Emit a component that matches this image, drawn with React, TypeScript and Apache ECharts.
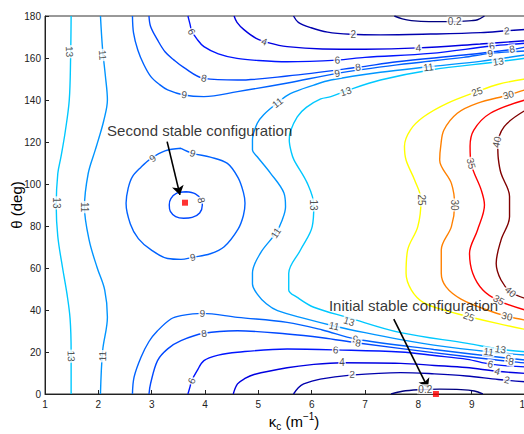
import React, { useEffect, useRef } from "react";
import * as echarts from "echarts";

const FONT = "'Liberation Sans', Arial, Helvetica, sans-serif";

// ---- contour lines: [kappa_c, theta] ----
const c02Top = [[7.55, 180], [7.7, 178.6], [7.87, 177.8], [8.2, 177.3], [8.68, 177.3], [9.0, 177.8], [9.11, 178.2], [9.24, 180]];
const c02Bottom = [[7.49, 0], [7.7, 1.3], [8.0, 2.0], [8.4, 2.3], [8.8, 2.1], [9.05, 1.4], [9.21, 0]];

const c2Top = [[5.66, 180], [5.75, 177], [5.99, 174.4], [6.3, 172.3], [6.73, 171.3], [7.29, 171.0], [8.23, 171.4], [9.17, 172.1], [9.66, 173], [10, 173.6]];
const c2Bottom = [[5.66, 0], [5.75, 3], [5.85, 4.8], [6.16, 7.1], [6.73, 9], [7.67, 10.2], [8.3, 9.6], [8.9, 8.6], [9.5, 6.9], [10, 5.8]];

const c4Top = [[4.545, 180], [4.6, 177], [4.73, 173.5], [4.95, 169.5], [5.2, 167.2], [5.54, 165.4], [6.2, 164.3], [7.0, 164.2], [8.0, 164.8], [9.16, 166.7], [10, 168.2]];
const c4Bottom = [[4.53, 0], [4.61, 4.8], [4.75, 7.4], [4.92, 9.3], [5.54, 12.5], [6.0, 14], [6.57, 14.9], [7.67, 14.6], [8.3, 13.6], [8.9, 12.6], [9.48, 10.8], [10, 9.8]];

const c6Top = [[3.68, 180], [3.72, 176], [3.75, 173], [3.85, 169], [3.98, 165.4], [4.25, 162], [4.6, 159.8], [5.0, 158.8], [5.54, 158.2], [6.48, 159], [7.0, 160.3], [8.23, 162.2], [9.38, 165.7], [10, 167]];
const c6Bottom = [[3.68, 0], [3.72, 3.5], [3.75, 6.3], [3.85, 11], [3.98, 15.9], [4.25, 18.5], [4.61, 19.9], [5.54, 21.4], [6.45, 21], [7.67, 20], [8.3, 18.3], [8.92, 16.5], [9.35, 14.2], [10, 12.9]];

const c8Top = [[2.95, 180], [2.98, 175], [3.11, 168.6], [3.25, 163], [3.42, 159], [3.6, 155.5], [3.98, 150.3], [4.61, 149.5], [5.54, 151.4], [6.87, 155.6], [7.6, 158.2], [8.85, 161.4], [9.76, 164.1], [10, 165.2]];
const c8Bottom = [[2.95, 0], [2.98, 5], [3.11, 15.9], [3.3, 21.5], [3.55, 25.4], [3.98, 28.9], [4.61, 30.1], [5.54, 28.6], [6.2, 26.8], [6.87, 24.3], [8.28, 19.7], [9.74, 15.4], [10, 14.8]];
const c8Loop = [[3.64, 96.3], [3.82, 95.3], [3.93, 92.5], [3.95, 90], [3.9, 86.2], [3.76, 84.1], [3.6, 83.7], [3.45, 84.5], [3.35, 87], [3.33, 90], [3.36, 93], [3.47, 95.6], [3.64, 96.3]];

const c9Top = [[2.64, 180], [2.66, 172], [2.74, 163.8], [2.85, 157], [2.985, 151.1], [3.15, 147.3], [3.3, 144.8], [3.6, 142.4], [3.98, 141.6], [4.61, 144], [5.55, 148.1], [6.48, 152.7], [7.6, 156.7], [8.85, 160.3], [9.35, 162.2], [10, 163.3]];
const c9Bottom = [[2.64, 0], [2.67, 8], [2.8, 17.5], [2.95, 25], [3.11, 30.1], [3.36, 35.7], [3.55, 37.3], [3.95, 38.4], [4.61, 36.5], [5.54, 34.1], [6.2, 30.5], [6.82, 26.2], [8.29, 21.2], [9.69, 17], [10, 16.2]];
const c9Loop = [[3.55, 117], [3.77, 114.6], [4.1, 112.8], [4.42, 109.8], [4.62, 103], [4.72, 96], [4.75, 90.8], [4.72, 85], [4.62, 78.5], [4.36, 70.1], [4.1, 66.8], [3.77, 65.1], [3.55, 64.1], [3.3, 64.5], [2.99, 68.6], [2.75, 74], [2.6, 81], [2.52, 90.8], [2.56, 98], [2.64, 103.5], [2.8, 108], [2.99, 112.2], [3.25, 115.8], [3.55, 117]];

const c11Left = [[2.04, 180], [2.08, 164], [2.13, 152], [2.17, 140], [2.1, 130], [2.0, 121], [1.94, 116], [1.81, 105], [1.74, 89], [1.83, 73], [1.98, 60], [2.12, 49.5], [2.17, 36.7], [2.08, 20.5], [2.04, 0]];
const c11Mid = [[10, 161.4], [9.16, 158.4], [8.19, 155.8], [7.29, 153.2], [6.36, 149.5], [6.04, 147.1], [5.6, 143], [5.36, 138.7], [5.1, 133], [4.98, 128.9], [4.89, 121], [4.89, 116.2], [4.98, 113], [5.23, 105.1], [5.48, 95.7], [5.51, 89.2], [5.45, 83], [5.33, 76.7], [5.04, 67.1], [4.89, 57.6], [4.89, 52.4], [4.98, 47.6], [5.15, 43], [5.36, 39.7], [5.86, 36], [6.42, 32.4], [7.0, 29.2], [7.67, 25.9], [8.29, 23.3], [9.32, 20.1], [10, 18.6]];

const c13Left = [[1.49, 180], [1.48, 160], [1.455, 140], [1.38, 125], [1.3, 113], [1.24, 105], [1.21, 90], [1.24, 75], [1.33, 60], [1.41, 48], [1.47, 36], [1.49, 20], [1.49, 0]];
const c13Mid = [[10, 159.9], [9.5, 158.2], [8.23, 154.3], [7.29, 149.5], [6.65, 144.4], [6.36, 141.6], [6.17, 140.5], [5.9, 136.5], [5.73, 132], [5.6, 125], [5.58, 121], [5.62, 115], [5.67, 111.4], [5.92, 100.3], [6.04, 90], [6.01, 79.7], [5.79, 68.6], [5.57, 57.5], [5.57, 49.5], [5.73, 46], [6.04, 41.3], [6.67, 36.5], [7.67, 29.2], [8.92, 24.1], [9.54, 21.3], [10, 20.1]];

const c25 = [[10, 150], [9.5, 147.5], [9.1, 144], [8.54, 138.4], [8.1, 132], [7.85, 125.7], [7.74, 118], [7.77, 111.4], [7.93, 101.9], [8.05, 92.4], [7.99, 79.7], [7.8, 68.6], [7.77, 57.5], [7.87, 49.5], [8.1, 43.5], [8.5, 39.8], [8.95, 36.8], [9.5, 33.5], [10, 30.8]];
const c30 = [[10, 144.8], [9.69, 142.4], [9.1, 138.4], [8.73, 133.7], [8.48, 125.7], [8.42, 118], [8.4, 111.4], [8.62, 100.3], [8.68, 90], [8.62, 79.7], [8.43, 68.6], [8.43, 57.5], [8.52, 51], [8.8, 45.2], [9.29, 40], [9.66, 37], [10, 35.2]];
const c35 = [[10, 140], [9.35, 133.7], [9.04, 125.7], [8.97, 118], [8.99, 109.8], [9.18, 97.1], [9.24, 90], [9.11, 78.1], [8.96, 67], [9.02, 57.5], [9.21, 49.5], [9.5, 44.5], [10, 40]];
const c40 = [[10, 135], [9.61, 127.3], [9.49, 118], [9.5, 112], [9.55, 105.1], [9.71, 94], [9.71, 84.4], [9.55, 73.3], [9.46, 62.2], [9.55, 54.3], [9.73, 48.7], [10, 45.5]];

const contourSets: [number, number[][]][] = [
  [0.2, c02Top], [0.2, c02Bottom],
  [2, c2Top], [2, c2Bottom],
  [4, c4Top], [4, c4Bottom],
  [6, c6Top], [6, c6Bottom],
  [8, c8Top], [8, c8Bottom], [8, c8Loop],
  [9, c9Top], [9, c9Bottom], [9, c9Loop],
  [11, c11Left], [11, c11Mid],
  [13, c13Left], [13, c13Mid],
  [25, c25], [30, c30], [35, c35], [40, c40],
];

// contour labels: text, kappa_c, theta, angle (deg, counter-clockwise)
const contourLabels: [string, number, number, number][] = [
  ["13", 1.46, 163, -88], ["11", 2.08, 161.4, -85],
  ["6", 3.75, 172.5, -64], ["4", 5.11, 167.8, -20],
  ["8", 3.98, 150.4, -12], ["9", 3.61, 142.5, -8],
  ["2", 6.78, 171.1, 0], ["6", 6.48, 159, 3], ["9", 6.48, 152.7, 9], ["8", 6.87, 155.6, 8],
  ["11", 5.36, 138.7, 38], ["13", 6.64, 144.1, 18],
  ["4", 8.0, 164.8, 2], ["11", 8.19, 155.6, 7], ["0.2", 8.68, 177.3, 0],
  ["2", 9.66, 173, 4], ["6", 9.38, 165.7, 10], ["8", 9.76, 164.3, 10], ["9", 9.35, 162.2, 8], ["13", 9.5, 158.3, 8],
  ["25", 9.1, 144, 20], ["30", 9.69, 142.4, 15], ["40", 9.47, 120, 78],
  ["9", 3.02, 112.2, 37], ["9", 3.77, 114.6, -17], ["8", 3.93, 92.3, -75], ["9", 3.77, 65.1, 11],
  ["13", 1.21, 91, -90], ["11", 1.74, 89, -90],
  ["11", 5.33, 76.7, 56], ["13", 6.04, 90, -90],
  ["25", 8.05, 92.4, -90], ["30", 8.68, 90, -90], ["35", 8.99, 109.8, -76],
  ["13", 1.49, 18, -88], ["11", 2.08, 18, 88],
  ["6", 3.75, 6.3, 66], ["9", 3.95, 38.4, -2], ["8", 3.98, 28.9, 8],
  ["11", 6.42, 32.4, -13], ["13", 6.7, 34.6, -17],
  ["9", 6.82, 26.2, -10], ["8", 6.87, 24.3, -10],
  ["6", 6.45, 21, -2], ["4", 6.57, 14.9, 0], ["2", 6.76, 9.3, -2], ["0.2", 8.13, 2.3, 0],
  ["25", 8.95, 36.8, -20], ["30", 9.66, 37, -12], ["35", 9.51, 44.8, -30], ["40", 9.73, 48.7, -40],
  ["11", 9.32, 20.1, -8], ["13", 9.54, 21.3, -8], ["9", 9.69, 17, -10], ["8", 9.74, 15.4, -10],
  ["6", 9.35, 14.2, -12], ["4", 9.48, 10.8, -15], ["2", 9.66, 6.7, -12],
];

// stable configurations and annotations
const stablePoints = [[3.625, 91.1], [8.33, 0]];
const annotationTexts = ["Second stable configuration", "Initial stable configuration"];
const annotationAnchors = [[3.9, 125.7], [7.91, 42]];
const arrowStarts = [[3.29, 120.2], [7.54, 35.7]];
const arrowEnds = [[3.53, 94.8], [8.18, 2.9]];

const levelColor: Record<string, string> = {
  "0.2": "#000080", "2": "#0000AD", "4": "#0000E1", "6": "#0015FF", "8": "#0048FF",
  "9": "#0062FF", "11": "#0095FF", "13": "#00C8FF", "25": "#FFFF00", "30": "#FF8000",
  "35": "#FF0000", "40": "#800000",
};

export default function App() {
  const ref = useRef<HTMLDivElement>(null);
  useEffect(() => {
    const chart = echarts.init(ref.current!, null, { renderer: "svg" });
    const lineSeries = contourSets.map(([lv, pts]) => ({
      type: "line",
      data: pts,
      showSymbol: false,
      symbol: "none",
      smooth: 0.35,
      silent: true,
      clip: true,
      z: 2,
      lineStyle: { color: levelColor[String(lv)], width: 1.4 },
    }));
    chart.setOption({
      animation: false,
      textStyle: { fontFamily: FONT },
      grid: {
        left: 45, top: 16, width: 480, height: 378, show: true, borderColor: "#333", borderWidth: 1,
        backgroundColor: "#fff", containLabel: false, outerBoundsMode: "none",
      },
      xAxis: {
        type: "value", min: 1, max: 10, interval: 1,
        axisLine: { onZero: false, lineStyle: { color: "#222", width: 1 } },
        axisTick: { inside: true, length: 4, lineStyle: { color: "#222" } },
        axisLabel: { color: "#222", fontSize: 10, margin: 5, fontFamily: FONT },
        splitLine: { show: false },
        name: "{k|κ}{s|c}{t| (m}{p|−1}{t|)}",
        nameLocation: "middle",
        nameGap: 17,
        nameMoveOverlap: false,
        nameTextStyle: {
          color: "#000", fontFamily: FONT, fontSize: 15, padding: [0, 0, 0, 18],
          rich: {
            k: { fontSize: 15, lineHeight: 20, verticalAlign: "middle", fontFamily: FONT, color: "#000" },
            t: { fontSize: 15, lineHeight: 20, verticalAlign: "middle", fontFamily: FONT, color: "#000" },
            s: { fontSize: 10, lineHeight: 10, verticalAlign: "bottom", fontFamily: FONT, color: "#000" },
            p: { fontSize: 10, lineHeight: 10, verticalAlign: "top", fontFamily: FONT, color: "#000" },
          },
        },
      },
      yAxis: {
        type: "value", min: 0, max: 180, interval: 20,
        axisLine: { onZero: false, lineStyle: { color: "#222", width: 1 } },
        axisTick: { inside: true, length: 4, lineStyle: { color: "#222" } },
        axisLabel: { color: "#222", fontSize: 10, margin: 4, fontFamily: FONT },
        splitLine: { show: false },
        name: "θ (deg)",
        nameLocation: "middle",
        nameGap: 21,
        nameMoveOverlap: false,
        nameTextStyle: { color: "#000", fontFamily: FONT, fontSize: 15 },
      },
      series: [
        ...lineSeries,
        {
          type: "scatter",
          symbolSize: 0,
          silent: true,
          clip: false,
          z: 5,
          data: contourLabels.map(([t, x, y, a]) => ({
            name: t,
            value: [x, y],
            label: { rotate: a },
          })),
          label: {
            show: true, position: "inside", formatter: "{b}", fontSize: 10, color: "#222",
            fontFamily: FONT, backgroundColor: "#fff", padding: [0, 1],
          },
        },
        {
          type: "scatter",
          symbolSize: 0,
          silent: true,
          clip: false,
          z: 6,
          data: annotationTexts.map((t, i) => ({ name: t, value: annotationAnchors[i] })),
          label: { show: true, position: "inside", formatter: "{b}", fontSize: 15, color: "#000", fontFamily: FONT },
          markLine: {
            silent: true,
            symbol: ["none", "arrow"],
            symbolSize: 9,
            lineStyle: { color: "#000", width: 1.6, type: "solid" },
            label: { show: false },
            data: arrowStarts.map((s, i) => [{ coord: s }, { coord: arrowEnds[i] }]),
          },
        },
        {
          type: "scatter",
          symbol: "rect",
          symbolSize: 6,
          silent: true,
          clip: false,
          z: 7,
          itemStyle: { color: "#FF0000" },
          data: stablePoints,
        },
      ],
    });
    return () => chart.dispose();
  }, []);
  return (
    <div
      ref={ref}
      style={{ position: "fixed", left: 0, top: 0, width: 540, height: 434, background: "#fff" }}
    />
  );
}
